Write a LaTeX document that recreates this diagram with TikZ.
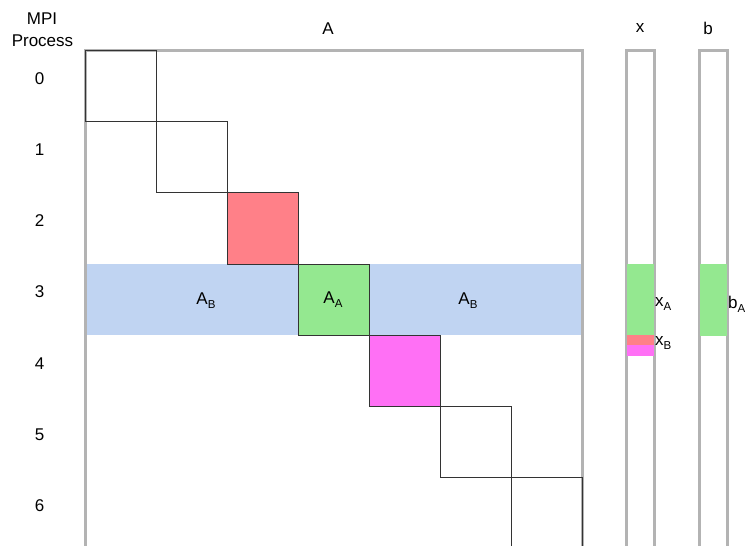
\documentclass[tikz,border=0pt]{standalone}
\usepackage{fontspec}
\setmainfont{Liberation Sans}
\newcommand\lowsub[1]{\raisebox{-3.8pt}{\fontsize{11.5}{13}\selectfont #1}}
\definecolor{frame}{HTML}{B3B3B3}
\definecolor{edge}{HTML}{333333}
\definecolor{bandblue}{HTML}{C0D4F2}
\definecolor{blkred}{HTML}{FF8088}
\definecolor{blkgreen}{HTML}{94E890}
\definecolor{blkmag}{HTML}{FF70F5}
\begin{document}
\begin{tikzpicture}[x=1pt,y=-1pt,
  every node/.style={font=\fontsize{17}{20}\selectfont, inner sep=0pt},
  grayframe/.style={draw=frame, line width=3pt},
  blockbox/.style={draw=edge, line width=0.8pt, minimum width=71pt, minimum height=71.2pt, anchor=north west},
  strip/.style={anchor=north west, inner sep=0pt, outer sep=0pt},
  lbl/.style={anchor=center}]
\useasboundingbox (0,0) rectangle (745,546);

% row band of process 3
\node[strip, fill=bandblue, minimum width=496pt, minimum height=71.2pt] (band) at (86,263.8) {};

% matrix outline and vector outlines
\draw[grayframe] (85,546) -- (85,50) -- (582,50) -- (582,546);
\draw[grayframe] (626,546) -- (626,50) -- (654,50) -- (654,546);
\draw[grayframe] (699,546) -- (699,50) -- (727,50) -- (727,546);

% diagonal blocks
\node[blockbox] (d0) at (85,50) {};
\node[blockbox] (d1) at (156,121.2) {};
\node[blockbox, fill=blkred] (d2) at (227,192.4) {};
\node[blockbox, fill=blkgreen] (d3) at (298,263.6) {};
\node[blockbox, fill=blkmag] (d4) at (369,334.8) {};
\node[blockbox] (d5) at (440,406) {};
\node[blockbox] (d6) at (511,477.2) {};

% pieces of x and b
\node[strip, fill=blkgreen, minimum width=26.5pt, minimum height=71.4pt] (xa) at (627.2,263.8) {};
\node[strip, fill=blkred, minimum width=26.5pt, minimum height=10pt] (xb) at (627.2,335.2) {};
\node[strip, fill=blkmag, minimum width=26.5pt, minimum height=10.8pt] (xm) at (627.2,345.2) {};
\node[strip, fill=blkgreen, minimum width=26.5pt, minimum height=72pt] (ba) at (700.2,263.8) {};

% headings
\node[lbl] (hmpi) at (42,18.5) {MPI};
\node[lbl] (hproc) at (42.5,40.5) {Process};
\node[lbl] (hA) at (328,28.5) {A};
\node[lbl] (hx) at (640,28) {x};
\node[lbl] (hb) at (708,28) {b};

% process numbers
\foreach \i in {0,...,6} {
  \node[lbl] (p\i) at (39.5,{78.5+71.2*\i}) {\i};
}

% block labels
\node[lbl] (lab1) at (206,301) {A\lowsub{B}};
\node[lbl] (laa) at (333,300) {A\lowsub{A}};
\node[lbl] (lab2) at (468,301) {A\lowsub{B}};
\node[anchor=west] (lxa) at (655,304) {x\lowsub{A}};
\node[anchor=west] (lxb) at (655,343) {x\lowsub{B}};
\node[anchor=west] (lba) at (728,304) {b\lowsub{A}};
\end{tikzpicture}
\end{document}
